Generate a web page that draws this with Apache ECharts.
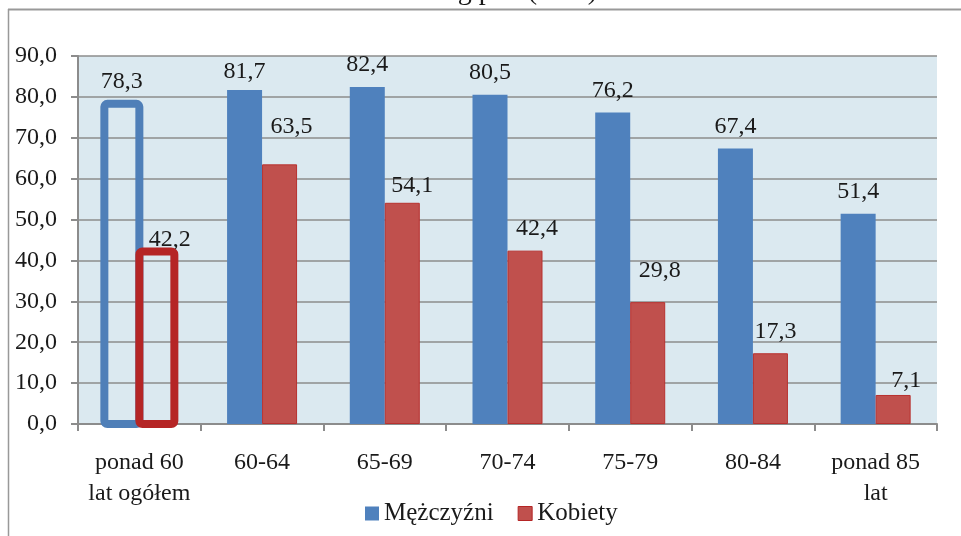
<!DOCTYPE html>
<html>
<head>
<meta charset="utf-8">
<script src="https://cdn.jsdelivr.net/npm/echarts@6/dist/echarts.min.js"></script>
<style>
  html, body { margin: 0; padding: 0; background: #fff; }
  #main { width: 961px; height: 536px; }
</style>
</head>
<body>
<div id="main"></div>
<script>
// kategorie wieku
var categories = ['ponad 60\nlat ogółem', '60-64', '65-69', '70-74', '75-79', '80-84', 'ponad 85\nlat'];
// odsetek (%)
var men = [78.3, 81.7, 82.4, 80.5, 76.2, 67.4, 51.4];
var women = [42.2, 63.5, 54.1, 42.4, 29.8, 17.3, 7.1];
var yTicks = [0, 10, 20, 30, 40, 50, 60, 70, 80, 90];

// ręczne przesunięcia etykiet (jak w oryginale z Excela)
var menLabelShift = [[0, 0], [0, 4], [0, 0], [0, 0], [0, 0], [0, 0], [0, 0]];
var womenLabelShift = [[13, 10], [12, -16], [10, 5], [12, 0], [12, -9], [5, 0], [13, 8]];

var FONT = '"Liberation Serif", "Times New Roman", serif';
var BLUE = '#4f81bd';
var RED = '#c0504d';
var BAR_W = 35;

function fmt(v) {
  return Number(v).toFixed(1).replace('.', ',');
}

// pierwsza kategoria: słupek niewidoczny (zostaje etykieta), obrys rysuje seria custom
function makeData(vals, shifts) {
  return vals.map(function (v, i) {
    var item = { value: v, label: { offset: shifts[i] } };
    if (i === 0) {
      item.itemStyle = { color: 'transparent', borderWidth: 0 };
    }
    return item;
  });
}

var chart = echarts.init(document.getElementById('main'));

var labelStyle = {
  show: true,
  position: 'top',
  distance: 10,
  fontFamily: FONT,
  fontSize: 24,
  color: '#1a1a1a',
  formatter: function (p) { return fmt(p.value); }
};

var outlineColors = ['#4f7fb8', '#b52525'];

var option = {
  animation: false,
  textStyle: { fontFamily: FONT },
  grid: {
    left: 78, right: 24, top: 56, bottom: 112,
    show: true, backgroundColor: '#dbe9f0', borderWidth: 0
  },
  graphic: [
    { type: 'line', shape: { x1: 8, y1: 9.5, x2: 961, y2: 9.5 }, style: { stroke: '#999', lineWidth: 2 } },
    { type: 'line', shape: { x1: 8.5, y1: 9, x2: 8.5, y2: 536 }, style: { stroke: '#999', lineWidth: 1.5 } },
    { type: 'text', x: 597, y: -22, style: { text: 'według płci (w %)', font: '28px ' + FONT, fill: '#1a1a1a', align: 'right', verticalAlign: 'top' } }
  ],
  legend: {
    top: 496,
    left: 360,
    itemWidth: 14,
    itemHeight: 14,
    itemGap: 24,
    icon: 'rect',
    textStyle: { fontFamily: FONT, fontSize: 25, color: '#1a1a1a' },
    data: [
      { name: 'Mężczyźni', itemStyle: { color: BLUE, borderWidth: 0 } },
      { name: 'Kobiety', itemStyle: { color: RED, borderColor: '#b52525', borderWidth: 1 } }
    ]
  },
  xAxis: {
    type: 'category',
    data: categories,
    axisLine: { lineStyle: { color: '#8c8c8c', width: 2 } },
    axisTick: { show: true, length: 7, interval: 0, lineStyle: { color: '#8c8c8c', width: 2 } },
    axisLabel: { interval: 0, margin: 23, fontFamily: FONT, fontSize: 24, lineHeight: 31, color: '#1a1a1a' }
  },
  yAxis: {
    type: 'value',
    min: yTicks[0],
    max: yTicks[yTicks.length - 1],
    interval: 10,
    axisLine: { show: true, lineStyle: { color: '#8c8c8c', width: 2 } },
    axisTick: { show: true, length: 7, lineStyle: { color: '#8c8c8c', width: 2 } },
    splitLine: { lineStyle: { color: '#8c8c8c', width: 1.5 } },
    axisLabel: { margin: 21, fontFamily: FONT, fontSize: 24, color: '#1a1a1a', formatter: fmt }
  },
  series: [
    {
      name: 'Mężczyźni',
      type: 'bar',
      barWidth: BAR_W,
      barGap: '0%',
      itemStyle: { color: BLUE },
      label: labelStyle,
      data: makeData(men, menLabelShift)
    },
    {
      name: 'Kobiety',
      type: 'bar',
      barWidth: BAR_W,
      itemStyle: { color: RED, borderColor: '#b8312f', borderWidth: 1 },
      label: labelStyle,
      data: makeData(women, womenLabelShift)
    },
    {
      // obrysy wyróżnionej kategorii "ponad 60 lat ogółem"
      name: 'obrys',
      type: 'custom',
      silent: true,
      z: 3,
      data: [[0, men[0], 0], [0, women[0], 1]],
      renderItem: function (params, api) {
        var idx = api.value(0);
        var side = api.value(2);
        var base = api.coord([idx, 0]);
        var top = api.coord([idx, api.value(1)]);
        var x = side === 0 ? base[0] - BAR_W : base[0];
        return {
          type: 'rect',
          shape: { x: x, y: top[1], width: BAR_W, height: base[1] - top[1], r: 3 },
          style: { fill: 'none', stroke: outlineColors[side], lineWidth: 8, lineJoin: 'round' }
        };
      }
    }
  ]
};

chart.setOption(option);
</script>
</body>
</html>
